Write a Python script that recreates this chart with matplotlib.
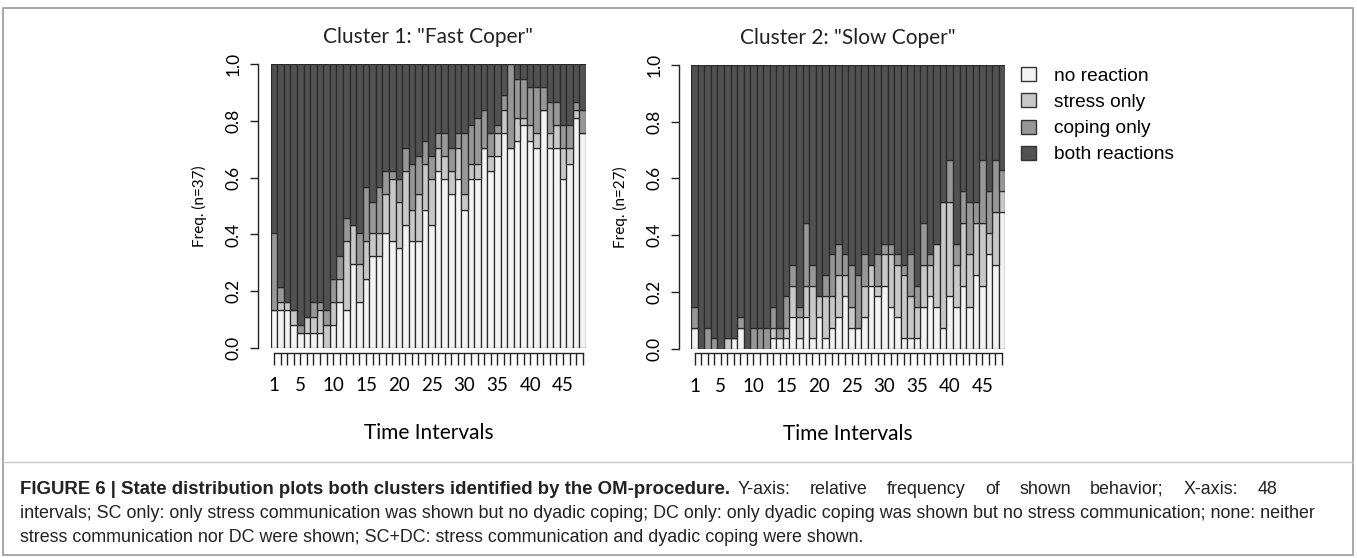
import numpy as np
import matplotlib
matplotlib.use("Agg")
import matplotlib.pyplot as plt
from matplotlib.patches import Rectangle
from matplotlib.lines import Line2D

# state order, bottom to top
states = ["no reaction", "stress only", "coping only", "both reactions"]
state_colors = ["#f3f3f3", "#c8c8c8", "#979797", "#525252"]

intervals = list(range(1, 49))
labelled = [1, 5, 10, 15, 20, 25, 30, 35, 40, 45]

# cluster 1 "Fast Coper", counts out of 37 per interval
fast_n = 37
fast_none = [5, 5, 5, 3, 2, 2, 2, 2, 0, 3, 6, 5, 11, 6, 9, 12, 12, 15, 14, 13, 16, 14, 14, 18,
             16, 23, 22, 20, 22, 18, 22, 22, 26, 23, 25, 28, 26, 27, 29, 27, 26, 31, 26, 26, 22, 24, 30, 28]
fast_stress = [0, 1, 1, 2, 0, 2, 2, 3, 3, 3, 3, 9, 5, 5, 5, 3, 3, 5, 8, 6, 7, 4, 6, 6,
               6, 3, 3, 3, 4, 2, 2, 2, 0, 2, 3, 3, 0, 3, 1, 2, 2, 0, 2, 3, 4, 2, 1, 0]
fast_coping = [10, 2, 0, 0, 1, 0, 2, 1, 2, 3, 3, 3, 0, 4, 7, 4, 6, 3, 1, 3, 3, 6, 5, 3,
               3, 2, 3, 3, 2, 8, 5, 6, 5, 3, 1, 2, 11, 5, 5, 5, 6, 3, 4, 3, 3, 3, 1, 3]

# cluster 2 "Slow Coper", counts out of 27 per interval
slow_n = 27
slow_none = [2, 0, 0, 0, 0, 0, 1, 2, 0, 0, 0, 0, 1, 1, 1, 3, 1, 3, 1, 3, 1, 2, 3, 5,
             2, 2, 3, 6, 5, 6, 4, 3, 1, 1, 1, 4, 5, 4, 2, 5, 4, 6, 4, 7, 6, 9, 8, 13]
slow_stress = [0, 0, 0, 0, 0, 1, 0, 0, 0, 0, 0, 0, 1, 0, 1, 3, 2, 3, 5, 2, 4, 3, 4, 2,
               2, 0, 3, 2, 1, 3, 5, 5, 6, 4, 3, 4, 3, 6, 12, 9, 4, 6, 5, 5, 6, 2, 5, 2]
slow_coping = [2, 0, 2, 1, 0, 0, 0, 1, 0, 2, 2, 2, 2, 1, 3, 2, 1, 6, 2, 0, 2, 4, 3, 2,
               4, 5, 3, 0, 3, 1, 1, 1, 1, 4, 2, 4, 1, 0, 0, 4, 2, 3, 5, 2, 6, 4, 5, 2]

W, H = 1357, 558
fig = plt.figure(figsize=(W / 100, H / 100), dpi=100)
R_FONT = "Lato"


def px_axes(x0, x1, ytop, ybot):
    return fig.add_axes([x0 / W, 1 - ybot / H, (x1 - x0) / W, (ybot - ytop) / H])


def state_plot(ax, n, none, stress, coping, title, ylab):
    none = np.array(none, dtype=float)
    stress = np.array(stress, dtype=float)
    coping = np.array(coping, dtype=float)
    both = n - none - stress - coping
    x = np.arange(len(none)) + 0.5
    bottom = np.zeros(len(none))
    for vals, col in zip([none, stress, coping, both], state_colors):
        ax.bar(x, vals / n, width=1.0, bottom=bottom, color=col,
               edgecolor="#2a2a2a", linewidth=0.9)
        bottom += vals / n
    ax.set_xlim(0, len(none))
    ax.set_ylim(0, 1)
    ax.spines["top"].set_visible(False)
    ax.spines["right"].set_visible(False)
    ax.spines["left"].set_position(("outward", 9))
    ax.spines["bottom"].set_position(("outward", 3.5))
    ax.spines["left"].set_bounds(0, 1)
    ax.spines["bottom"].set_bounds(0.5, len(none) - 0.5)
    for s in ["left", "bottom"]:
        ax.spines[s].set_linewidth(1.0)
        ax.spines[s].set_color("#222222")
    ax.set_xticks(x)
    ax.set_xticklabels([str(i) if i in labelled else "" for i in intervals],
                       fontsize=13.5, family=R_FONT)
    ax.set_yticks([0, 0.2, 0.4, 0.6, 0.8, 1.0])
    ax.set_yticklabels(["0.0", "0.2", "0.4", "0.6", "0.8", "1.0"], rotation=90,
                       va="center", fontsize=12.5, family=R_FONT)
    ax.tick_params(axis="x", length=8.5, width=1.0, color="#222222", pad=9)
    ax.tick_params(axis="y", length=6, width=1.0, color="#222222", pad=6)
    ax.set_title(title, fontsize=15, family=R_FONT, pad=15, color="#222222")
    ax.set_ylabel(ylab, fontsize=11, family=R_FONT, labelpad=13)
    ax.set_xlabel("Time Intervals", fontsize=15, family=R_FONT, labelpad=21)
    ax.patch.set_visible(False)


ax1 = px_axes(270.7, 586.0, 64, 348)
state_plot(ax1, fast_n, fast_none, fast_stress, fast_coping,
           'Cluster 1: "Fast Coper"', "Freq. (n=37)")
ax2 = px_axes(691.3, 1005.3, 65, 348.5)
state_plot(ax2, slow_n, slow_none, slow_stress, slow_coping,
           'Cluster 2: "Slow Coper"', "Freq. (n=27)")

# legend
handles = [Rectangle((0, 0), 1, 1, facecolor=c, edgecolor="#333333", linewidth=1.0)
           for c in state_colors]
fig.legend(handles, states, loc="upper left", bbox_to_anchor=(1004 / W, 1 - 50 / H),
           frameon=False, prop={"family": "Liberation Sans", "size": 13.8},
           handlelength=0.75, handleheight=0.75, handletextpad=0.95, labelspacing=0.44)

# frame around the whole figure and caption separator
fig.add_artist(Rectangle((3 / W, 3 / H), (W - 7) / W, (H - 11) / H, transform=fig.transFigure,
                         facecolor="none", edgecolor="#9a9a9a", linewidth=1.2))
fig.add_artist(Line2D([3 / W, (W - 4) / W], [1 - 462 / H, 1 - 462 / H], transform=fig.transFigure,
                      color="#c8c8c8", linewidth=1.0))

# caption: bold lead-in, then the rest of line 1 spread out to x=1277
cap_font = {"family": "Liberation Sans", "size": 12.9, "color": "#222222"}
bold_part = "FIGURE 6 | State distribution plots both clusters identified by the OM-procedure."
plain_part = "Y-axis: relative frequency of shown behavior; X-axis: 48"
renderer = fig.canvas.get_renderer()
t1 = fig.text(20 / W, 1 - 489 / H, bold_part, weight="bold", va="center",
              family="Liberation Sans", size=13.4, color="#222222")
start = t1.get_window_extent(renderer).x1 + 7
texts = [fig.text(0, 1 - 489 / H, w, va="center", **cap_font) for w in plain_part.split()]
widths = [t.get_window_extent(renderer).width for t in texts]
gap = (1277 - start - sum(widths)) / (len(texts) - 1)
xpos = start
for t, wd in zip(texts, widths):
    t.set_x(xpos / W)
    xpos += wd + gap

fig.text(20 / W, 1 - 514 / H,
         "intervals; SC only: only stress communication was shown but no dyadic coping; "
         "DC only: only dyadic coping was shown but no stress communication; none: neither",
         va="center", **cap_font)
fig.text(20 / W, 1 - 538 / H,
         "stress communication nor DC were shown; SC+DC: stress communication and dyadic coping were shown.",
         va="center", **cap_font)

fig.savefig("out.png", dpi=100)
